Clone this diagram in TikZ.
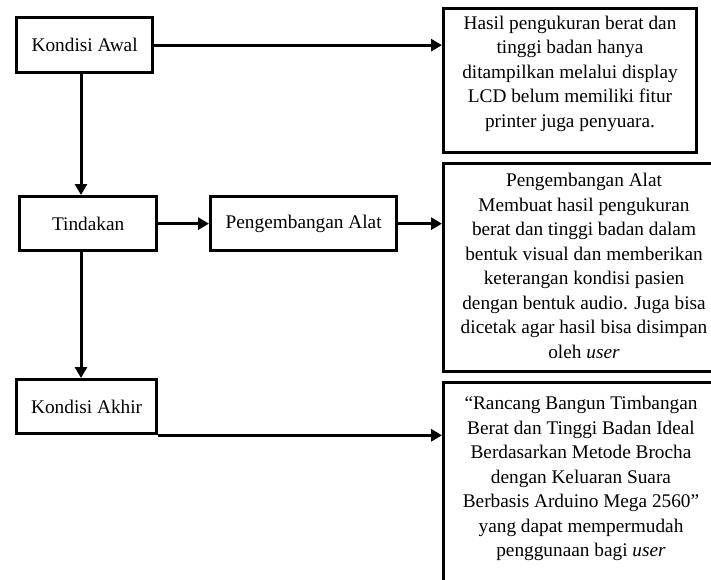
\documentclass[tikz,border=0pt]{standalone}
\usepackage{fontspec}
\setmainfont{Liberation Serif}
\usetikzlibrary{arrows.meta,calc}
\begin{document}
\begin{tikzpicture}[x=1pt,y=-1pt,
  box/.style={draw, line width=3.3pt, inner sep=0pt, anchor=north west,
              font=\fontsize{19.3}{24.5}\selectfont},
  txt/.style={align=center, inner sep=0pt, font=\fontsize{19.3}{24.5}\selectfont},
  arr/.style={line width=3pt, -{Triangle[length=11pt,width=12pt]}}]
\useasboundingbox (0,0) rectangle (711,579);
\clip (0,0) rectangle (711,579);
% left column
\node[box, minimum width=136pt, minimum height=55pt] (awal) at (15,16) {Kondisi Awal};
\node[box, minimum width=137pt, minimum height=54pt] (tind) at (18,195) {Tindakan};
\node[box, minimum width=186pt, minimum height=54pt] (peng) at (209,195) {Pengembangan Alat};
\node[box, minimum width=140pt, minimum height=54pt] (akhir) at (15,378) {Kondisi Akhir};
% right boxes
\node[box, minimum width=253pt, minimum height=144pt] (r1) at (442,7) {};
\node[box, minimum width=284pt, minimum height=208pt] (r2) at (442,162) {};
\node[box, minimum width=278pt, minimum height=230pt] (r3) at (442,381) {};
\node[txt] (t1) at (570,73.5) {Hasil pengukuran berat dan\\tinggi badan hanya\\ditampilkan melalui display\\LCD belum memiliki fitur\\printer juga penyuara.};
\node[txt] (t2) at (584,266) {Pengembangan Alat\\Membuat hasil pengukuran\\berat dan tinggi badan dalam\\bentuk visual dan memberikan\\keterangan kondisi pasien\\dengan bentuk audio. Juga bisa\\dicetak agar hasil bisa disimpan\\oleh \textit{user}};
\node[txt] (t3) at (581,478.5) {“Rancang Bangun Timbangan\\Berat dan Tinggi Badan Ideal\\Berdasarkan Metode Brocha\\dengan Keluaran Suara\\Berbasis Arduino Mega 2560”\\yang dapat mempermudah\\penggunaan bagi \textit{user}};
% connectors
\coordinate (xl) at (81,0);
\draw[arr] (awal.east) -- (awal.east -| r1.west);
\draw[arr] (awal.south -| xl) -- (tind.north -| xl);
\draw[arr] (tind.east) -- (tind.east -| peng.west);
\draw[arr] (peng.east) -- (peng.east -| r2.west);
\draw[arr] (tind.south -| xl) -- (akhir.north -| xl);
\draw[arr] (akhir.south east) -- (akhir.south east -| r3.west);
\end{tikzpicture}
\end{document}
